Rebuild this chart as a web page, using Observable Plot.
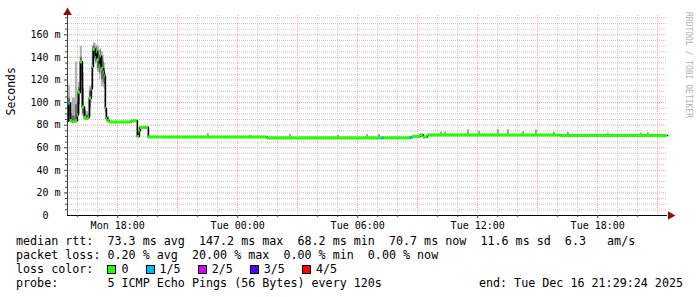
<!DOCTYPE html>
<html>
<head>
<meta charset="utf-8">
<script src="https://cdn.jsdelivr.net/npm/d3@7"></script>
<script src="https://cdn.jsdelivr.net/npm/@observablehq/plot@0.6"></script>
<style>
  body { margin: 0; background: #fff; }
  #wrap { position: relative; width: 697px; height: 297px; overflow: hidden; background: #fff;
          font-family: "DejaVu Sans Mono", monospace; color: #000; }
  #chart { position: absolute; left: 0; top: 0; }
  .leg { position: absolute; font-size: 11.7px; line-height: 14px; white-space: pre; }
  .item { display: inline-block; margin-right: 17px; }
  .box { display: inline-block; width: 7px; height: 7px; border: 1px solid #000; margin-right: 5px; vertical-align: -1px; }
  #mark { position: absolute; left: 684px; top: 12px; writing-mode: vertical-rl; font-size: 8px;
          color: #b0b0b0; white-space: pre; font-family: "DejaVu Sans Mono", monospace; }
</style>
</head>
<body>
<div id="wrap">
  <div id="chart"></div>
  <div id="mark"></div>
  <div class="leg" id="l1" style="left:16px;top:234px"></div>
  <div class="leg" id="l2" style="left:16px;top:248px"></div>
  <div class="leg" id="l3" style="left:16px;top:262px"></div>
  <div class="leg" id="l4" style="left:16px;top:276px"></div>
  <div class="leg" id="l4r" style="right:14px;top:276px"></div>
</div>
<script>
// ---------- data ----------
const startLabel = "Mon 15:29:24";
const endLabel = "Tue 21:29:24";

const lossLabels = ["0", "1/5", "2/5", "3/5", "4/5"];
const lossColors = ["#26ff00", "#00b8ff", "#d400ff", "#5500ff", "#ff0000"];

const segTime = ["Mon 15:29:24","Mon 15:32","Mon 15:38","Mon 15:44","Mon 15:53","Mon 15:59","Mon 16:02","Mon 16:08",
  "Mon 16:14","Mon 16:20","Mon 16:26","Mon 16:32","Mon 16:35","Mon 16:41","Mon 16:44","Mon 16:47","Mon 16:53",
  "Mon 16:56","Mon 16:59","Mon 17:05","Mon 17:08","Mon 17:11","Mon 17:17","Mon 17:20","Mon 17:23","Mon 17:26",
  "Mon 17:29","Mon 17:35","Mon 18:41","Mon 18:59","Mon 19:05","Mon 19:08","Mon 19:32","Tue 01:29","Tue 07:14",
  "Tue 07:20","Tue 08:38","Tue 08:44","Tue 09:08","Tue 09:17","Tue 09:29","Tue 13:08","Tue 16:08"];
const segMedian = [83.5, 99.5, 84, 83, 84, 89, 109, 136, 96, 87, 86, 87, 104, 112, 132, 147.2, 140, 145, 138, 133,
  141, 130, 127, 123.5, 95, 86, 84, 82.8, 83.8, 70, 75, 78, 69.5, 68.7, 68.7, 68.7, 69, 70, 71.4, 69.5, 71.3, 71.2, 70.8];
const segLoss = [0, 1, 0, 0, 0, 0, 0, 0, 0, 0, 0, 0, 0, 1, 0, 0, 1, 0, 0, 0,
  0, 0, 0, 0, 0, 0, 0, 0, 0, 0, 0, 0, 0, 0, 1, 0, 1, 0, 0, 0, 0, 0, 0];
const segLo = [82, 84, 82, 82, 82, 84, 90, 110, 88, 84, 84, 85, 88, 100, 112, 138, 134, 135, 127, 120,
  125, 114, 113, 112, 90, 84, 82, 82.3, 83.3, 69, 70, 77.5, 69, 68.2, 68.2, 68.2, 68.5, 69.5, 70.9, 69, 70.8, 70.7, 70.3];
const segHi = [86, 115, 100, 104, 136, 110, 118, 150, 126, 96, 92, 90, 114, 116, 150, 153, 152, 151, 150, 147,
  148, 145, 142, 135, 112, 93, 88, 83.3, 84.3, 72, 78, 78.5, 70, 69.2, 69.2, 69.2, 69.5, 70.5, 71.9, 70, 71.8, 71.7, 71.3];
const segCoreLo = [83, 88, 83, 82.5, 83, 86, 98, 120, 90, 85, 85, 86, 95, 105, 120, 142, 136, 138, 130, 126,
  130, 120, 118, 116, 92, 85, 83, 82.3, 83.3, 69, 70, 77.5, 69, 68.2, 68.2, 68.2, 68.5, 69.5, 70.9, 69, 70.8, 70.7, 70.3];
const segCoreHi = [85, 104, 90, 88, 98, 100, 113, 140, 112, 92, 89, 88, 110, 114, 145, 150, 148, 149, 146, 142,
  146, 140, 136, 130, 104, 90, 86, 83.3, 84.3, 72, 78, 78.5, 70, 69.2, 69.2, 69.2, 69.5, 70.5, 71.9, 70, 71.8, 71.7, 71.3];

const spikeTime = ["Mon 22:29","Tue 00:35","Tue 02:35","Tue 04:59","Tue 06:26","Tue 07:02","Tue 10:08","Tue 10:20",
  "Tue 11:29","Tue 12:02","Tue 12:59","Tue 13:29","Tue 14:14","Tue 14:53","Tue 15:47","Tue 16:29","Tue 18:29",
  "Tue 20:08","Tue 20:29"];
const spikeLo = [69.5, 69.5, 68.7, 68.7, 68.7, 68.7, 71.3, 71.3, 71.3, 71.3, 71.3, 71.2, 71.2, 71.2, 71.2, 70.8, 70.8, 70.8, 70.8];
const spikeHi = [72.6, 71, 71.7, 71, 71.7, 71.7, 73.8, 73.8, 75.9, 74.5, 76, 75.9, 74, 75.9, 73.6, 73.5, 72.9, 72.9, 73.2];

const yMajorTicks = [20, 40, 60, 80, 100, 120, 140, 160];
const yMajorLabels = ["20 m", "40 m", "60 m", "80 m", "100 m", "120 m", "140 m", "160 m"];
const yZeroLabel = "0";
const yTitle = "Seconds";
const yMax = 177.1;

const xTickTimes = ["Mon 18:00", "Tue 00:00", "Tue 06:00", "Tue 12:00", "Tue 18:00"];
const xTickLabels = ["Mon 18:00", "Tue 00:00", "Tue 06:00", "Tue 12:00", "Tue 18:00"];

const legendRtt = "median rtt:  73.3 ms avg  147.2 ms max  68.2 ms min  70.7 ms now  11.6 ms sd  6.3   am/s";
const legendLoss = "packet loss: 0.20 % avg  20.00 % max  0.00 % min  0.00 % now";
const legendLossTitle = "loss color:  ";
const legendProbe = "probe:       5 ICMP Echo Pings (56 Bytes) every 120s";
const legendEnd = "end: Tue Dec 16 21:29:24 2025";
const watermark = "RRDTOOL / TOBI OETIKER";

// ---------- build ----------
function parseT(s) {
  const [d, hm] = s.split(" ");
  const [h, m, sec] = hm.split(":").map(Number);
  return new Date(Date.UTC(2025, 11, d === "Mon" ? 15 : 16, h, m, sec || 0));
}
const tStart = parseT(startLabel), tEnd = parseT(endLabel);
const n = segTime.length;
const segs = segTime.map((s, i) => ({
  t0: parseT(s),
  t1: i < n - 1 ? parseT(segTime[i + 1]) : tEnd,
  med: segMedian[i], lo: segLo[i], hi: segHi[i], clo: segCoreLo[i], chi: segCoreHi[i],
  color: lossColors[segLoss[i]]
}));
const linePts = segs.map(d => ({t: d.t0, v: d.med})).concat([{t: tEnd, v: segMedian[n - 1]}]);
const spikes = spikeTime.map((s, i) => {
  const t0 = parseT(s);
  return {t0, t1: new Date(+t0 + 6 * 60000), lo: spikeLo[i], hi: spikeHi[i]};
});

const hours = d3.utcHour.range(d3.utcHour.ceil(tStart), tEnd);
const xMajor = hours.filter(d => d.getUTCHours() % 3 === 0);
const xMinor = hours.filter(d => d.getUTCHours() % 3 !== 0);
const yAll = d3.range(5, yMax, 5);
const yMinor = yAll.filter(v => v % 20 !== 0);

const minorGrid = "#c6c6c6", majorGrid = "#eaa0a0";

const chart = Plot.plot({
  width: 697, height: 232,
  marginLeft: 67, marginRight: 30, marginTop: 15, marginBottom: 17,
  style: {fontFamily: "DejaVu Sans Mono, monospace", fontSize: "10px", background: "#fff", overflow: "visible", color: "#000"},
  x: {type: "utc", domain: [tStart, tEnd]},
  y: {domain: [0, yMax]},
  color: {type: "identity"},
  marks: [
    Plot.ruleY(yMinor, {stroke: minorGrid, strokeDasharray: "1,1"}),
    Plot.ruleX(xMinor, {stroke: minorGrid, strokeDasharray: "1,1"}),
    Plot.ruleY(yMajorTicks, {stroke: majorGrid, strokeDasharray: "1,1"}),
    Plot.ruleX(xMajor, {stroke: majorGrid, strokeDasharray: "1,1"}),
    Plot.rect(segs, {x1: "t0", x2: "t1", y1: "lo", y2: "hi", fill: "#b0b0b0"}),
    Plot.rect(segs, {x1: "t0", x2: "t1", y1: "clo", y2: "chi", fill: "#686868"}),
    Plot.rect(spikes, {x1: "t0", x2: "t1", y1: "lo", y2: "hi", fill: "#a0a0a0"}),
    Plot.line(linePts, {x: "t", y: "v", curve: "step-after", stroke: "#000", strokeWidth: 1.6}),
    Plot.ruleY(segs, {y: "med", x1: "t0", x2: "t1", stroke: "color", strokeWidth: 3}),
    // axes lines
    Plot.ruleX([tStart], {y1: 0, y2: yMax, stroke: "#404040"}),
    Plot.ruleY([0], {stroke: "#000"}),
    Plot.dot([tStart], {x: d => d, y: yMax, dy: -3, symbol: "triangle", r: 3.2, fill: "#8b1010", stroke: null}),
    Plot.dot([tEnd], {x: d => d, y: 0, dx: 3, symbol: "triangle", r: 3.2, rotate: 90, fill: "#8b1010", stroke: null}),
    // y ticks
    Plot.axisY(yMinor, {tickSize: 2, tickFormat: () => "", stroke: "#404040", label: null}),
    Plot.axisY(yMajorTicks, {tickSize: 3, tickPadding: 4, tickFormat: (d, i) => yMajorLabels[i],
      stroke: "#404040", label: null}),
    Plot.axisY([0], {tickSize: 0, tickPadding: 19, tickFormat: () => yZeroLabel, label: null}),
    Plot.text([yTitle], {text: d => d, frameAnchor: "left", rotate: -90, dx: -56, fontSize: 11.5}),
    // x ticks
    Plot.axisX(xMinor, {tickSize: 2, tickFormat: () => "", stroke: "#404040", label: null}),
    Plot.axisX(xTickTimes.map(parseT), {tickSize: 3, tickPadding: 3, tickFormat: (d, i) => xTickLabels[i], label: null, stroke: "#404040"})
  ]
});
document.getElementById("chart").appendChild(chart);

// ---------- legend ----------
document.getElementById("mark").textContent = watermark;
document.getElementById("l1").textContent = legendRtt;
document.getElementById("l2").textContent = legendLoss;
const l3 = document.getElementById("l3");
l3.appendChild(document.createTextNode(legendLossTitle));
lossLabels.forEach((lab, i) => {
  const item = document.createElement("span");
  item.className = "item";
  const b = document.createElement("span");
  b.className = "box";
  b.style.background = lossColors[i];
  item.appendChild(b);
  item.appendChild(document.createTextNode(lab));
  l3.appendChild(item);
});
document.getElementById("l4").textContent = legendProbe;
document.getElementById("l4r").textContent = legendEnd;
</script>
</body>
</html>
